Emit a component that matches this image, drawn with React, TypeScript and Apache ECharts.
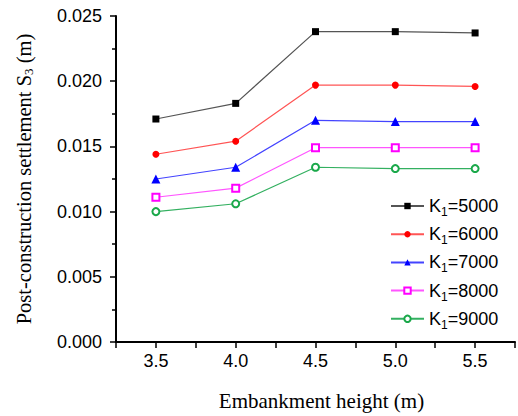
import React, { useEffect, useRef } from "react";
import * as echarts from "echarts";

const heights = [3.5, 4.0, 4.5, 5.0, 5.5];
const seriesNames = ["5000", "6000", "7000", "8000", "9000"];
const k5000 = [0.0171, 0.0183, 0.0238, 0.0238, 0.0237];
const k6000 = [0.0144, 0.0154, 0.0197, 0.0197, 0.0196];
const k7000 = [0.0125, 0.0134, 0.0170, 0.0169, 0.0169];
const k8000 = [0.0111, 0.0118, 0.0149, 0.0149, 0.0149];
const k9000 = [0.0100, 0.0106, 0.0134, 0.0133, 0.0133];
const colors = ["#000000", "#ff0000", "#0000ff", "#ff00ff", "#1aa84a"];
const lineColors = ["#555555", "#ff5555", "#4444ff", "#ff55ff", "#33b060"];
const symbols = ["rect", "circle", "triangle", "emptyRect", "emptyCircle"];

export default function App() {
  const ref = useRef<HTMLDivElement>(null);
  useEffect(() => {
    const chart = echarts.init(ref.current!, null, { renderer: "svg" });
    const all = [k5000, k6000, k7000, k8000, k9000];
    chart.setOption({
      animation: false,
      backgroundColor: "#ffffff",
      grid: { left: 116, top: 16, width: 405, height: 327, containLabel: false },
      xAxis: {
        type: "value",
        min: 3.25,
        max: 5.75,
        interval: 0.25,
        axisLine: { show: true, lineStyle: { color: "#000", width: 2 } },
        axisTick: { show: true, inside: false, length: 6, lineStyle: { color: "#000", width: 1.5 } },
        splitLine: { show: false },
        axisLabel: {
          margin: 10,
          fontSize: 18,
          fontFamily: "Liberation Sans, Arial",
          color: "#000",
          formatter: (v: number) => {
            const r = Math.round(v * 100) / 100;
            return heights.some((h) => Math.abs(h - r) < 1e-6) ? r.toFixed(1) : "";
          },
        },
        name: "Embankment height (m)",
        nameLocation: "middle",
        nameGap: 48,
        nameTextStyle: { fontFamily: "Liberation Serif, Times New Roman", fontSize: 21, color: "#000", padding: [0, 0, 0, 12] },
      },
      yAxis: {
        type: "value",
        min: 0,
        max: 0.025,
        interval: 0.005,
        axisLine: { show: true, lineStyle: { color: "#000", width: 2 } },
        axisTick: { show: true, inside: false, length: 6, lineStyle: { color: "#000", width: 1.5 } },
        minorTick: { show: true, splitNumber: 2, length: 4, lineStyle: { color: "#000", width: 1.5 } },
        splitLine: { show: false },
        axisLabel: {
          margin: 14,
          fontSize: 18,
          fontFamily: "Liberation Sans, Arial",
          color: "#000",
          formatter: (v: number) => v.toFixed(3),
        },
        name: "Post-construction settlement S{sub|3} (m)",
        nameLocation: "middle",
        nameGap: 81,
        nameRotate: 90,
        nameTextStyle: {
          fontFamily: "Liberation Serif, Times New Roman",
          fontSize: 20.5,
          color: "#000",
          rich: { sub: { fontSize: 13, padding: [9, 0, 0, 0], fontFamily: "Liberation Serif, Times New Roman", color: "#000" } },
        },
      },
      legend: {
        orient: "vertical",
        left: 390,
        top: 197,
        padding: 0,
        itemWidth: 33,
        itemHeight: 8,
        itemGap: 7.2,
        data: seriesNames.map((n) => "K1=" + n),
        formatter: (name: string) => "K{sub|1}{main|" + name.slice(2) + "}",
        textStyle: {
          fontSize: 18,
          fontFamily: "Liberation Sans, Arial",
          color: "#000",
          rich: {
            main: { fontSize: 18, fontFamily: "Liberation Sans, Arial", color: "#000", lineHeight: 24 },
            sub: { fontSize: 12, fontFamily: "Liberation Sans, Arial", color: "#000", padding: [12, 0, 0, 0] },
          },
        },
      },
      series: all.map((arr, i) => ({
        type: "line",
        name: "K1=" + seriesNames[i],
        data: heights.map((h, j) => [h, arr[j]]),
        symbol: symbols[i],
        symbolSize: i === 2 ? 9 : 7,
        lineStyle: { color: lineColors[i], width: 1.2 },
        itemStyle: { color: colors[i], borderColor: colors[i], borderWidth: i >= 3 ? 1.5 : 0 },
        emphasis: { disabled: true },
      })),
    });
    return () => chart.dispose();
  }, []);
  return <div ref={ref} style={{ width: 518, height: 416, position: "absolute", left: 0, top: 0 }} />;
}
